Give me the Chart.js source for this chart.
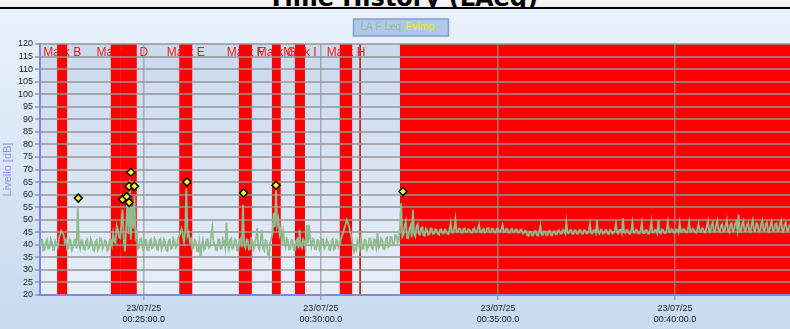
<!DOCTYPE html>
<html>
<head>
<meta charset="utf-8">
<script src="https://cdn.jsdelivr.net/npm/chart.js@4.4.0/dist/chart.umd.min.js"></script>
<style>
  body { margin: 0; background: #f2f2f2; width: 790px; height: 329px; overflow: hidden; }
  #head { position: relative; height: 7px; overflow: hidden; border-bottom: 2px solid #000; }
  #head span { position: absolute; left: 16px; right: 0; top: -14px; text-align: center;
    font: bold 24px "DejaVu Sans"; line-height: 24px; color: #000; white-space: nowrap; }
</style>
</head>
<body>
<div id="head"><span>Time History (LAeq)</span></div>
<canvas id="myChart" width="790" height="320"></canvas>
<script>
// time axis in seconds since midnight
const xMin = 1324;
const xMax = 2595;
const xTickSecs = [1500, 1800, 2100, 2400];
const xTickDates = ["23/07/25", "23/07/25", "23/07/25", "23/07/25"];
const xTickTimes = ["00:25:00.0", "00:30:00.0", "00:35:00.0", "00:40:00.0"];

// LA F Leq, one sample every 2 s from sampleStart
const sampleStart = 1324;
const sampleStep = 2;
const laeq = [
  39.5, 42.2, 41.8, 37.8, 38.2, 41.0, 42.0, 38.4, 38.8, 42.4, 41.2, 38.0, 37.9, 41.5, 40.6, 39.2, 42.5, 44.0, 45.6, 44.8,
  44.2, 41.0, 42.0, 38.2, 38.6, 42.3, 41.5, 37.8, 39.0, 41.9, 42.2, 38.6, 55.0, 40.2, 38.4, 42.0, 41.7, 38.3, 38.0, 41.6,
  42.1, 38.5, 39.2, 42.4, 41.0, 38.0, 37.6, 41.2, 41.9, 37.9, 38.9, 42.6, 42.4, 38.4, 39.5, 41.8, 41.3, 37.7, 38.2, 42.2,
  42.0, 39.8, 44.5, 41.2, 40.8, 47.5, 46.0, 43.0, 42.6, 48.5, 54.1, 41.5, 37.4, 47.0, 56.5, 44.2, 65.8, 42.0, 55.0, 46.5,
  59.4, 43.0, 44.8, 38.5, 39.0, 42.4, 42.5, 38.0, 38.3, 42.1, 41.9, 37.9, 37.8, 41.7, 42.2, 38.6, 39.1, 42.5, 41.6, 38.2,
  38.0, 41.9, 42.4, 38.1, 39.3, 42.3, 41.2, 37.8, 37.5, 41.6, 42.0, 38.4, 38.8, 42.6, 41.7, 38.9, 39.6, 42.8, 43.5, 44.9,
  46.4, 43.6, 41.0, 45.2, 62.5, 43.5, 44.8, 41.1, 42.2, 38.3, 38.9, 42.0, 41.5, 37.6, 37.4, 40.9, 35.0, 39.5, 41.8, 38.0,
  38.6, 41.9, 42.3, 38.7, 39.4, 43.8, 47.2, 41.0, 40.1, 38.1, 37.8, 42.2, 42.1, 38.3, 38.5, 42.4, 41.4, 38.6, 49.0, 40.2,
  38.2, 41.8, 42.6, 38.4, 39.0, 42.3, 41.9, 37.8, 37.6, 41.5, 42.4, 39.0, 55.9, 40.0, 38.8, 42.2, 42.0, 38.1, 38.3, 42.5,
  41.7, 38.2, 39.6, 42.6, 46.7, 39.0, 38.0, 42.1, 45.9, 38.6, 37.6, 41.8, 41.5, 36.4, 35.2, 41.0, 42.4, 44.5, 52.7, 47.0,
  61.8, 48.0, 50.4, 44.2, 46.2, 41.5, 45.5, 40.8, 39.0, 42.6, 42.1, 38.2, 38.4, 42.0, 41.8, 37.9, 37.9, 41.6, 42.3, 38.5,
  46.0, 39.5, 38.7, 42.2, 41.4, 38.4, 47.9, 40.5, 48.0, 41.8, 39.2, 42.4, 42.0, 38.3, 38.1, 41.9, 41.6, 38.0, 38.9, 42.3,
  42.2, 38.5, 39.4, 42.1, 41.0, 38.2, 37.8, 41.7, 42.3, 38.0, 38.6, 42.0, 41.5, 39.0, 39.8, 42.4, 43.6, 45.2, 46.8, 48.3,
  49.9, 48.6, 47.2, 44.8, 43.0, 39.5, 37.2, 38.9, 37.8, 42.0, 40.9, 38.4, 42.6, 38.2, 38.5, 42.1, 41.8, 38.0, 39.0, 42.5,
  42.4, 38.8, 38.3, 42.2, 41.7, 39.0, 45.1, 38.7, 39.6, 42.6, 42.0, 38.4, 38.2, 42.3, 42.8, 39.1, 39.5, 43.2, 43.0, 39.8,
  40.2, 44.0, 43.8, 41.0, 41.5, 47.0, 56.5, 43.2, 44.0, 47.5, 49.5, 42.8, 42.6, 46.5, 47.8, 43.0, 53.9, 44.5, 43.4, 47.2,
  48.2, 44.3, 44.1, 46.8, 47.0, 43.8, 43.6, 46.4, 45.8, 44.0, 44.2, 46.5, 46.3, 44.4, 44.6, 46.2, 45.9, 44.3, 44.0, 46.0,
  46.2, 44.6, 44.5, 46.1, 45.7, 44.5, 44.3, 46.0, 48.7, 44.9, 44.8, 46.3, 50.3, 45.0, 45.2, 46.5, 46.4, 44.8, 44.9, 46.3,
  46.5, 45.0, 45.1, 46.3, 46.0, 44.9, 44.8, 46.2, 46.6, 45.1, 45.3, 46.4, 48.1, 45.2, 45.0, 46.1, 46.4, 44.9, 45.2, 46.5,
  46.7, 45.1, 45.0, 46.4, 46.2, 44.8, 44.9, 46.3, 46.5, 45.2, 45.4, 46.2, 47.9, 45.0, 45.1, 46.4, 46.3, 44.9, 44.8, 46.1,
  46.4, 45.0, 45.2, 46.2, 46.1, 44.8, 44.9, 46.0, 46.0, 44.5, 44.6, 45.6, 45.4, 43.8, 43.6, 45.3, 45.2, 43.7, 43.8, 45.4,
  45.5, 43.9, 43.7, 45.2, 47.8, 44.0, 43.9, 45.4, 45.3, 43.8, 44.0, 45.5, 45.6, 43.9, 43.8, 45.3, 45.4, 44.2, 44.4, 45.7,
  45.8, 44.4, 44.5, 45.9, 45.6, 44.6, 49.2, 44.7, 44.6, 45.8, 45.9, 44.4, 44.3, 45.8, 45.7, 44.5, 44.5, 45.9, 45.8, 44.6,
  44.4, 45.8, 45.6, 44.5, 44.6, 45.9, 48.3, 44.7, 44.5, 45.8, 45.9, 44.6, 49.6, 45.0, 44.4, 45.9, 45.7, 44.5, 44.6, 45.8,
  45.8, 44.5, 44.3, 45.9, 45.6, 44.4, 44.7, 45.8, 48.6, 44.8, 44.5, 45.9, 45.9, 44.6, 50.5, 44.9, 44.6, 45.8, 45.8, 44.5,
  44.4, 45.8, 49.0, 44.8, 44.7, 46.0, 45.8, 44.6, 44.5, 45.9, 48.8, 44.7, 44.6, 45.8, 45.9, 44.5, 44.4, 46.0, 49.3, 44.9,
  44.8, 46.0, 45.7, 44.6, 49.8, 45.0, 44.5, 46.1, 45.9, 44.7, 44.6, 46.0, 49.1, 45.1, 45.0, 46.2, 46.0, 44.8, 44.7, 46.1,
  45.9, 44.9, 48.6, 45.2, 45.1, 46.3, 46.2, 45.0, 44.9, 46.2, 49.0, 45.1, 45.3, 46.4, 46.1, 45.0, 44.8, 46.3, 48.4, 45.2,
  45.2, 46.6, 46.3, 45.0, 44.9, 47.5, 49.5, 45.3, 45.0, 47.8, 48.8, 45.2, 45.3, 48.0, 49.7, 45.4, 45.1, 47.6, 48.2, 45.3,
  45.4, 47.9, 49.8, 45.5, 45.0, 48.1, 48.6, 45.4, 45.6, 48.4, 49.2, 45.6, 52.0, 45.3, 45.1, 48.2, 49.5, 45.5, 45.3, 48.0,
  48.7, 45.3, 45.0, 48.2, 49.9, 45.6, 45.4, 48.5, 48.3, 45.4, 45.2, 48.0, 49.6, 45.7, 45.5, 48.3, 48.9, 45.2, 45.0, 47.9,
  49.4, 45.5, 45.3, 48.1, 48.5, 45.4, 45.6, 48.6, 49.7, 45.3, 45.1, 48.2, 48.8, 45.6, 45.4, 48.0
];

// EvImp markers
const evTimes = [1389, 1464, 1471, 1475, 1475, 1478, 1484, 1573, 1669, 1724, 1939];
const evLevels = [58.6, 58.1, 59.2, 56.9, 63.3, 68.9, 63.3, 65.0, 60.6, 63.7, 61.2];

// marked periods
const markStart = [1353, 1444, 1461, 1560, 1661, 1717, 1756, 1832, 1865, 1934];
const markEnd = [1370, 1461, 1488, 1582, 1683, 1732, 1773, 1853, 1868, 2620];
const markLabels = ["Mark B", "Mark C", "Mark D", "Mark E", "Mark F", "Mark G", "Mark I", "Mark H", "", "Mark J"];

const legendColors = ["#8fbc8f", "#f0f020"];

const laeqPoints = laeq.map((v, i) => ({ x: sampleStart + i * sampleStep, y: v }));
const evPoints = evTimes.map((t, i) => ({ x: t, y: evLevels[i] }));

const backdrop = {
  id: "backdrop",
  beforeDraw(chart) {
    const { ctx, chartArea: a, width, height } = chart;
    const x = chart.scales.x;
    ctx.save();
    let g = ctx.createLinearGradient(0, 0, 0, height);
    g.addColorStop(0, "#e9f1fb");
    g.addColorStop(1, "#c6daf0");
    ctx.fillStyle = g;
    ctx.fillRect(0, 0, width, height);

    g = ctx.createLinearGradient(0, a.top, 0, a.bottom);
    g.addColorStop(0, "#cad9ed");
    g.addColorStop(1, "#e6eef9");
    ctx.fillStyle = g;
    ctx.fillRect(a.left, a.top, a.right - a.left, a.bottom - a.top);

    ctx.beginPath();
    ctx.rect(a.left, a.top, a.right - a.left, a.bottom - a.top);
    ctx.clip();
    // labels first, the red periods cover them
    ctx.font = "12px 'Liberation Sans'";
    ctx.fillStyle = "#f21c1c";
    ctx.textAlign = "center";
    ctx.textBaseline = "middle";
    markLabels.forEach((lab, i) => {
      if (!lab) return;
      const xc = (x.getPixelForValue(markStart[i]) + x.getPixelForValue(markEnd[i])) / 2;
      ctx.fillText(lab, xc, a.top + 9);
    });
    markStart.forEach((s, i) => {
      const x0 = x.getPixelForValue(s);
      const x1 = x.getPixelForValue(markEnd[i]);
      ctx.fillStyle = x1 - x0 < 3 ? "#c8281e" : "#ff0000";
      ctx.fillRect(x0, a.top, x1 - x0, a.bottom - a.top);
    });
    ctx.restore();

    // legend frame
    const hb = chart.legend.legendHitBoxes;
    if (hb && hb.length) {
      const last = hb[hb.length - 1];
      const x0 = hb[0].left - 2;
      const x1 = last.left + last.width + 14;
      const y0 = hb[0].top - 2;
      const y1 = hb[0].top + hb[0].height + 2;
      ctx.save();
      ctx.fillStyle = "#b0c8e8";
      ctx.strokeStyle = "#7f9fd2";
      ctx.lineWidth = 1.5;
      ctx.fillRect(x0, y0, x1 - x0, y1 - y0);
      ctx.strokeRect(x0, y0, x1 - x0, y1 - y0);
      ctx.restore();
    }
  }
};

new Chart(document.getElementById("myChart"), {
  type: "line",
  data: {
    datasets: [
      {
        label: "LA F Leq",
        data: laeqPoints,
        borderColor: "#8fbc8f",
        borderWidth: 1.8,
        pointRadius: 0,
        tension: 0,
        order: 1,
      },
      {
        label: "EvImp",
        data: evPoints,
        showLine: false,
        pointStyle: "rectRot",
        pointRadius: 4,
        pointBackgroundColor: "#ffff00",
        pointBorderColor: "#000000",
        pointBorderWidth: 1.5,
        order: 0,
      },
    ],
  },
  options: {
    responsive: false,
    animation: false,
    layout: { autoPadding: false, padding: { top: 12, left: 0, right: 0, bottom: 0 } },
    plugins: {
      title: { display: false },
      tooltip: { enabled: false },
      legend: {
        position: "top",
        labels: {
          boxWidth: 0,
          boxHeight: 13,
          padding: 0,
          font: { family: "'Liberation Sans'", size: 10 },
          generateLabels: (chart) =>
            chart.data.datasets.map((ds, i) => ({
              text: ds.label,
              fontColor: legendColors[i],
              fillStyle: "rgba(0,0,0,0)",
              strokeStyle: "rgba(0,0,0,0)",
              lineWidth: 0,
              hidden: false,
              datasetIndex: i,
            })),
        },
      },
    },
    scales: {
      x: {
        type: "linear",
        min: xMin,
        max: xMax,
        afterFit: (scale) => { scale.height = 34; },
        afterBuildTicks: (scale) => { scale.ticks = xTickSecs.map((v) => ({ value: v })); },
        grid: { color: "rgba(150,150,150,0.75)", lineWidth: 1.5, tickLength: 5 },
        border: { color: "#8c84d4", width: 2 },
        ticks: {
          autoSkip: false,
          maxRotation: 0,
          padding: 3,
          color: "#222",
          font: { family: "'Liberation Sans'", size: 9, lineHeight: 1.25 },
          callback: (value) => {
            const i = xTickSecs.indexOf(value);
            return i < 0 ? "" : [xTickDates[i], xTickTimes[i]];
          },
        },
      },
      y: {
        min: 20,
        max: 120,
        afterFit: (scale) => { scale.width = 40; },
        grid: { color: "rgba(150,150,150,0.75)", lineWidth: 2, tickLength: 5 },
        border: { color: "#8282f0", width: 2 },
        title: {
          display: true,
          text: "Livello [dB]",
          color: "#8f8ff0",
          padding: { top: 1, bottom: 0 },
          font: { family: "'Liberation Sans'", size: 11 },
        },
        ticks: {
          stepSize: 5,
          autoSkip: false,
          padding: 2,
          color: "#222",
          font: { family: "'Liberation Sans'", size: 9 },
        },
      },
    },
  },
  plugins: [backdrop],
});
</script>
</body>
</html>
